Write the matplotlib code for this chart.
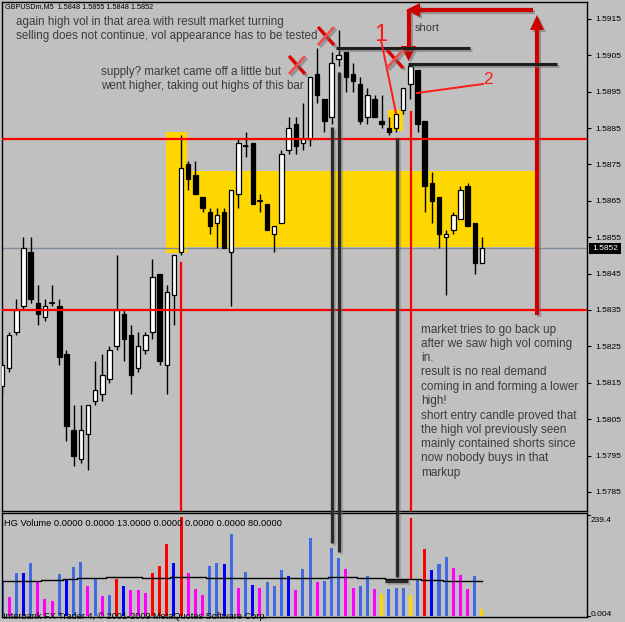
import matplotlib
matplotlib.use('Agg')
import matplotlib.pyplot as plt
import matplotlib.patheffects as pe
from matplotlib import font_manager
from matplotlib.patches import Rectangle, Polygon
import numpy as np

# ---------------- data ----------------
opens  = [1.5814,1.5819,1.5829,1.5836,1.5851,1.5837,1.5833,1.5837,1.5836,1.5823,
          1.5802,1.5794,1.5801,1.5810,1.5812,1.5816,1.5825,1.5834,1.5828,1.5819,
          1.5824,1.5829,1.5845,1.5820,1.5839,1.5851,1.5875,1.5872,1.5866,1.5862,
          1.5859,1.5862,1.5851,1.5867,1.5880,1.5881,1.5865,1.5864,1.5856,1.5859,
          1.5879,1.5886,1.5881,1.5882,1.5900,1.5893,1.5888,1.5904,1.5906,1.5900,
          1.5897,1.5888,1.5893,1.5887,1.5885,1.5885,1.5890,1.5897,1.5901,1.5887,
          1.5870,1.5866,1.5855,1.5857,1.5860,1.5869,1.5859,1.5848]
highs  = [1.5821,1.5829,1.5838,1.5855,1.5855,1.5842,1.5838,1.5842,1.5838,1.5824,
          1.5809,1.5809,1.5809,1.5821,1.5823,1.5825,1.5850,1.5835,1.5831,1.5829,
          1.5829,1.5849,1.5845,1.5842,1.5850,1.5883,1.5876,1.5876,1.5866,1.5863,
          1.5863,1.5863,1.5868,1.5882,1.5884,1.5881,1.5867,1.5864,1.5858,1.5879,
          1.5888,1.5888,1.5892,1.5899,1.5907,1.5893,1.5906,1.5912,1.5906,1.5903,
          1.5899,1.5896,1.5894,1.5894,1.5888,1.5889,1.5896,1.5902,1.5901,1.5887,
          1.5873,1.5866,1.5857,1.5862,1.5869,1.5870,1.5859,1.5855]
lows   = [1.5812,1.5818,1.5828,1.5835,1.5837,1.5831,1.5832,1.5836,1.5820,1.5799,
          1.5792,1.5793,1.5791,1.5809,1.5810,1.5815,1.5824,1.5821,1.5812,1.5818,
          1.5823,1.5827,1.5820,1.5812,1.5831,1.5850,1.5868,1.5867,1.5862,1.5856,
          1.5852,1.5852,1.5836,1.5863,1.5877,1.5864,1.5862,1.5857,1.5851,1.5859,
          1.5878,1.5878,1.5879,1.5880,1.5892,1.5884,1.5886,1.5902,1.5895,1.5895,
          1.5886,1.5886,1.5888,1.5885,1.5883,1.5884,1.5889,1.5893,1.5884,1.5862,
          1.5859,1.5852,1.5839,1.5856,1.5860,1.5858,1.5845,1.5848]
closes = [1.5820,1.5828,1.5835,1.5852,1.5838,1.5834,1.5836,1.5837,1.5822,1.5803,
          1.5795,1.5802,1.5809,1.5813,1.5817,1.5824,1.5835,1.5827,1.5817,1.5825,
          1.5828,1.5844,1.5821,1.5840,1.5850,1.5874,1.5871,1.5867,1.5863,1.5858,
          1.5861,1.5852,1.5868,1.5881,1.5880,1.5864,1.5865,1.5857,1.5858,1.5878,
          1.5885,1.5880,1.5882,1.5899,1.5894,1.5887,1.5903,1.5905,1.5899,1.5898,
          1.5887,1.5894,1.5888,1.5886,1.5884,1.5889,1.5896,1.5902,1.5886,1.5869,
          1.5865,1.5856,1.5856,1.5861,1.5868,1.5858,1.5848,1.5852]
volumes = [80,45,100,100,125,80,39,35,99,86,
           114,127,70,88,47,49,87,70,61,61,
           53,100,117,168,124,232,100,63,49,117,
           124,122,192,66,104,73,66,80,70,108,
           94,61,110,182,80,83,159,135,110,66,
           70,94,63,52,63,66,66,49,86,157,
           108,121,138,113,96,63,94,16]
vol_codes = list("bmbBbmmmbB" "bbmbmbrBmm" "mrrrBrmmmb" "bBbmbBmbbb"
                 "Bmbbmbbbmm" "bbmybbbybr" "Bbbmmmby")
vol_avg = [82,82,82,82,82,82,84,84,84,86,86,88,88,88,88,91,91,91,91,91,
           88,88,88,88,91,91,91,91,91,89,89,89,89,89,89,89,89,89,89,89,89,89,
           88,88,88,88,91,91,91,91,88,88,88,88,87,87,87,87,87,84,84,84,
           82,82,82,82,82,82]
price_ticks = [1.5785,1.5795,1.5805,1.5815,1.5825,1.5835,1.5845,1.5855,
               1.5865,1.5875,1.5885,1.5895,1.5905,1.5915]
red_levels = [1.5882, 1.5835]
last_price = 1.5852
title_text = "GBPUSDm,M5  1.5848 1.5855 1.5848 1.5852"
vol_title = "HG Volume 0.0000 0.0000 13.0000 0.0000 0.0000 0.0000 80.0000"
vol_max_label, vol_min_label = "239.4", "0.004"

# ---------------- layout ----------------
W, H, DPI = 625, 622, 100
BG = '#C0C0C0'
names = {f.name for f in font_manager.fontManager.ttflist}
NOTE_FONT = 'Liberation Sans Narrow' if 'Liberation Sans Narrow' in names else 'Liberation Sans'
SMALL_FONT = 'Liberation Sans'
STEP = 7.164            # px per bar
PPX = 36380.0           # px per price unit
P_REF, Y_REF = 1.5835, 310.0

fig = plt.figure(figsize=(W / DPI, H / DPI), dpi=DPI, facecolor=BG)

def px_axes(x0, y0, x1, y1):
    return fig.add_axes([x0 / W, 1 - y1 / H, (x1 - x0) / W, (y1 - y0) / H])

def px2i(x):
    return (x - 2) / STEP

def px2p(y):
    return P_REF + (Y_REF - y) / PPX

ax = px_axes(2, 2, 587, 511)
axv = px_axes(2, 513, 587, 617)
for a in (ax, axv):
    a.set_facecolor(BG)
    for s in a.spines.values():
        s.set_color('black'); s.set_linewidth(1)
    a.set_xlim(px2i(2), px2i(587))
    a.set_xticks([])

ax.set_ylim(px2p(511), px2p(2))
ax.yaxis.tick_right()
ax.set_yticks(price_ticks)
ax.set_yticklabels([f"{p:.4f}" for p in price_ticks], family=SMALL_FONT)
ax.tick_params(axis='y', direction='out', length=3, width=0.8, labelsize=6, pad=3, colors='black')

idx = np.arange(len(opens))
o = np.array(opens); c = np.array(closes)
# yellow zones (background objects)
ax.add_patch(Rectangle((px2i(166), px2p(253)), px2i(187) - px2i(166), px2p(132) - px2p(253),
                       color='#FFD700', lw=0, zorder=1))
ax.add_patch(Rectangle((px2i(166), px2p(247)), px2i(537) - px2i(166), px2p(171) - px2p(247),
                       color='#FFD700', lw=0, zorder=1))
ax.add_patch(Rectangle((px2i(388), px2p(131)), px2i(403) - px2i(388), px2p(110) - px2p(131),
                       color='#FFD700', lw=0, zorder=1))
ax.axhline(last_price, color='#7F8C99', lw=1, zorder=2)

# candles
ax.vlines(idx, lows, highs, color='black', lw=1, zorder=3)
bull = c >= o
ax.bar(idx, np.abs(c - o), bottom=np.minimum(o, c), width=0.62,
       color=np.where(bull, 'white', 'black'), edgecolor='black', linewidth=0.9, zorder=4)
doji = np.abs(c - o) < 1e-6
ax.hlines(c[doji], idx[doji] - 0.4, idx[doji] + 0.4, color='black', lw=1.2, zorder=4)
for lv in red_levels:
    ax.axhline(lv, color='#FF0000', lw=1.6, zorder=5)

# volume panel
cmap = {'b': '#4169E1', 'B': '#0000FF', 'm': '#FF00FF', 'r': '#FF0000', 'y': '#FFD700'}
axv.set_ylim(-2.35, 241.7)
axv.set_yticks([])
axv.bar(idx, volumes, width=0.42, color=[cmap[k] for k in vol_codes], zorder=2)
axv.step(idx, vol_avg, where='mid', color='black', lw=1, zorder=3)

# ---------------- overlay (annotations in pixel coords) ----------------
ov = fig.add_axes([0, 0, 1, 1], zorder=10)
ov.set_xlim(0, W); ov.set_ylim(H, 0); ov.axis('off'); ov.patch.set_alpha(0)
renderer = fig.canvas.get_renderer()

def shadow_line(xs, ys, color, lw, shadow=True, alpha=0.55):
    effects = [pe.SimpleLineShadow(offset=(1.5, -1.5), shadow_color='#707070', alpha=alpha), pe.Normal()] if shadow else None
    ov.plot(xs, ys, color=color, lw=lw, solid_capstyle='butt', path_effects=effects)

def tri(pts, color):
    ov.add_patch(Polygon(pts, closed=True, color=color, lw=0,
                         path_effects=[pe.SimplePatchShadow(offset=(1.5, -1.5), shadow_rgbFace='#707070', alpha=0.55), pe.Normal()]))

DR = '#CC0000'
# big arrow path
shadow_line([537, 537], [315, 28], DR, 3)
tri([(530, 30), (544, 30), (537, 15)], DR)
shadow_line([533, 418], [10, 10], DR, 3)
tri([(420, 3), (420, 17), (406, 10)], DR)
shadow_line([408.5, 408.5], [10, 48], DR, 3)
tri([(401, 46), (416, 46), (408.5, 61)], DR)

# black horizontal lines
shadow_line([336, 470], [48, 48], '#1E1E1E', 2.2)
shadow_line([408, 557], [63.5, 63.5], '#1E1E1E', 2.2)
# dark vertical lines
shadow_line([331.5, 331.5], [127, 543], '#2A2A2A', 2.4, alpha=0.35)
shadow_line([338.5, 338.5], [72, 552], '#2A2A2A', 2.4, alpha=0.35)
shadow_line([397, 397], [138, 577], '#2A2A2A', 2.4, alpha=0.35)
shadow_line([385, 408], [581, 581], '#2A2A2A', 2.4, alpha=0.35)
# red verticals
ov.plot([180.5, 180.5], [263, 510], color='#FF0000', lw=1.6)
ov.plot([410.5, 410.5], [112, 510], color='#FF0000', lw=1.6)
ov.plot([410.5, 410.5], [519, 578], color='#FF0000', lw=1.6)
# thin red lines to 1 and 2
ov.plot([381, 396], [40, 113], color='#FF1A1A', lw=1.4)
ov.plot([417, 483], [93, 84], color='#FF1A1A', lw=1.4)
# red X marks
for cx, cy in [(326, 36), (297, 65), (395, 59)]:
    shadow_line([cx - 8, cx + 8], [cy - 9, cy + 9], '#E00000', 2.4)
    shadow_line([cx + 8, cx - 8], [cy - 9, cy + 9], '#E85050', 2.0)

def fit_text(x, y, s, width, color, fam, size0=8, **kw):
    t = ov.text(x, y, s, fontsize=size0, family=fam, color=color, va='center', ha='left', **kw)
    for _ in range(3):
        w = t.get_window_extent(renderer).width
        t.set_fontsize(t.get_fontsize() * width / w)
    return t

def block(x, ys, lines, ref_line, ref_width, color='#3A3A3A'):
    t = fit_text(x, ys[0], ref_line, ref_width, color, NOTE_FONT)
    size = t.get_fontsize(); t.remove()
    for y, s in zip(ys, lines):
        ov.text(x, y, s, fontsize=size, family=NOTE_FONT, color=color, va='center', ha='left')

TXT = '#3C3C3C'
block(16.5, [22.5, 36], ["again high vol in that area with result market turning",
                         "selling does not continue, vol appearance has to be tested"],
      "selling does not continue, vol appearance has to be tested", 300, TXT)
block(101, [72, 86], ["supply? market came off a little but",
                      "went higher, taking out highs of this bar"],
      "went higher, taking out highs of this bar", 203, TXT)
right_lines = ["market tries to go back up", "after we saw high vol coming", "in.",
               "result is no real demand", "coming in and forming a lower", "high!",
               "short entry candle proved that", "the high vol previously seen",
               "mainly contained shorts since", "now nobody buys in that", "markup"]
right_ys = [330, 344, 358, 372, 387, 401, 416, 430, 444, 458, 473]
block(421, right_ys, right_lines, "mainly contained shorts since", 154, TXT)
fit_text(415, 28, "short", 25, TXT, NOTE_FONT)
ov.text(381, 35, "1", fontsize=17, family=NOTE_FONT, color='#FF1A1A', va='center', ha='center')
ov.text(488, 79, "2", fontsize=12.5, family=NOTE_FONT, color='#FF1A1A', va='center', ha='center')

fit_text(5, 7, title_text, 147, 'black', SMALL_FONT)
fit_text(4, 523, vol_title, 274, 'black', SMALL_FONT)
fit_text(3, 616.5, "Interbank FX Trader 4, \u00a9 2001-2009 MetaQuotes Software Corp.", 260, 'black', SMALL_FONT)

# price box and volume scale labels
ov.add_patch(Rectangle((589, 243), 32, 11, color='black', lw=0))
ov.text(605, 248.5, f"{last_price:.4f}", fontsize=6, family=SMALL_FONT, color='white', va='center', ha='center')
ov.plot([587, 590], [514.5, 514.5], color='black', lw=0.8)
ov.plot([587, 590], [615.5, 615.5], color='black', lw=0.8)
ov.text(591, 520, vol_max_label, fontsize=6, family=SMALL_FONT, color='black', va='center', ha='left')
ov.text(591, 614, vol_min_label, fontsize=6, family=SMALL_FONT, color='black', va='center', ha='left')

fig.savefig('out.png', dpi=DPI, facecolor=BG)
